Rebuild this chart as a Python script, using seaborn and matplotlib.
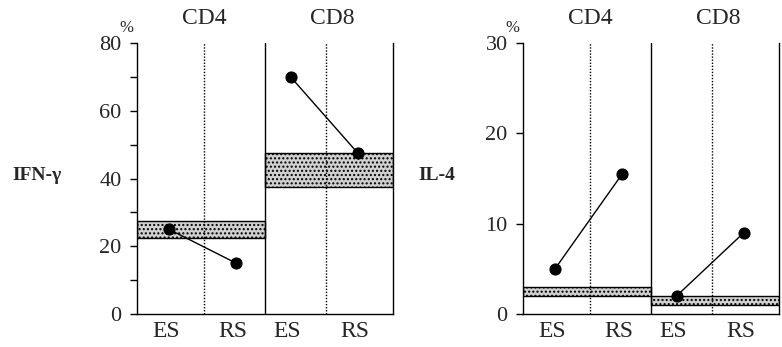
import matplotlib
matplotlib.use("Agg")
import matplotlib.pyplot as plt
import seaborn as sns
import pandas as pd
import numpy as np

# ---- data ----
cells = ["CD4", "CD8"]
stages = ["ES", "RS"]
ifn_values = {"CD4": [25, 15], "CD8": [70, 47.5]}
ifn_band = {"CD4": [22.5, 27.5], "CD8": [37.5, 47.5]}
il4_values = {"CD4": [5, 15.5], "CD8": [2, 9]}
il4_band = {"CD4": [2, 3], "CD8": [1, 2]}
ifn_ticks = [0, 20, 40, 60, 80]
il4_ticks = [0, 10, 20, 30]

# ---- layout ----
stage_pos = {"CD4": [0.5, 1.55], "CD8": [2.4, 3.45]}
cell_span = {"CD4": (0, 2), "CD8": (2, 4)}

sns.set_theme(style="ticks")
plt.rcParams["font.family"] = ["Liberation Serif", "DejaVu Serif"]

fig = plt.figure(figsize=(7.82, 3.47), dpi=100)
ax1 = fig.add_axes([137/782, 1-314/347, 256/782, 271/347])
ax2 = fig.add_axes([523/782, 1-314/347, 256/782, 271/347])

def draw(ax, values, band, ymax, ticks, minor, label, label_x):
    rows = []
    for c in cells:
        for s, v, x in zip(stages, values[c], stage_pos[c]):
            rows.append({"cell": c, "stage": s, "value": v, "x": x})
    df = pd.DataFrame(rows)
    for c in cells:
        lo, hi = band[c]
        x0, x1 = cell_span[c]
        ax.fill_between([x0, x1], [lo, lo], [hi, hi], facecolor="#d0d0d0",
                        edgecolor="black", hatch="....", linewidth=1.0, zorder=1)
        sub = df[df["cell"] == c]
        sns.lineplot(data=sub, x="x", y="value", ax=ax, color="black",
                     linewidth=1.0, marker="o", markersize=8,
                     markeredgecolor="black", zorder=3, legend=False)
    ax.axvline(2, color="black", linewidth=1.0, zorder=2)
    for xd in (1.05, 2.95):
        ax.axvline(xd, color="black", linewidth=1.0, linestyle=(0, (1, 1.2)), zorder=2)
    ax.set_xlim(0, 4)
    ax.set_ylim(0, ymax)
    ax.set_yticks(ticks)
    ax.set_yticklabels([str(t) for t in ticks], fontsize=16)
    if minor:
        ax.set_yticks(minor, minor=True)
    ax.tick_params(axis="y", which="both", direction="out", length=5, width=1, color="black", pad=6)
    xt = [stage_pos[c][i] - 0.05 for c in cells for i in range(2)]
    ax.set_xticks(xt)
    ax.set_xticklabels(stages * 2, fontsize=17)
    ax.tick_params(axis="x", length=0, pad=5)
    ax.set_xlabel("")
    ax.set_ylabel("")
    for sp in ["left", "bottom", "right"]:
        ax.spines[sp].set_visible(True)
        ax.spines[sp].set_color("black")
        ax.spines[sp].set_linewidth(1.0)
    ax.spines["top"].set_visible(False)
    for c in cells:
        x0, x1 = cell_span[c]
        ax.text((x0 + x1) / 2 + 0.05, ymax * 1.09, c, ha="center", va="center", fontsize=17)
    ax.text(-0.16, ymax * 1.055, "%", ha="center", va="center", fontsize=12)
    fig.text(label_x, 1 - 175/347, label, ha="left", va="center", fontsize=14, fontweight="bold")

draw(ax1, ifn_values, ifn_band, 80, ifn_ticks, [10, 30, 50, 70], "IFN-γ", 12/782)
draw(ax2, il4_values, il4_band, 30, il4_ticks, None, "IL-4", 418/782)

fig.savefig("out.png", dpi=100)
